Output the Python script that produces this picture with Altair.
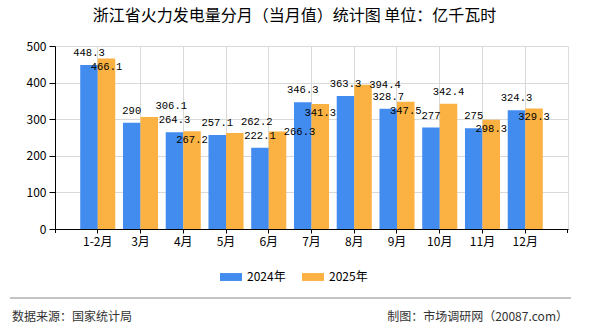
import altair as alt
import pandas as pd

months = ["1-2月", "3月", "4月", "5月", "6月", "7月", "8月", "9月", "10月", "11月", "12月"]
v2024 = [448.3, 290, 264.3, 257.1, 222.1, 346.3, 363.3, 328.7, 277, 275, 324.3]
v2025 = [466.1, 306.1, 267.2, 262.2, 266.3, 341.3, 394.4, 347.5, 342.4, 298.3, 329.3]
series = ["2024年", "2025年"]
colors = ["#428bef", "#fbb242"]
y_ticks = [0, 100, 200, 300, 400, 500]
title_text = "浙江省火力发电量分月（当月值）统计图  单位：亿千瓦时"
source_text = "数据来源：国家统计局"
maker_text = "制图：市场调研网（20087.com）"

# ---- layout constants -------------------------------------------------------
W, H = 513, 183
Y_MAX = 500
P_INNER, P_OUTER = 0.18, 0.59
CJK = "Noto Sans CJK SC"
GRID = "#d9d9d9"
LBL_FONT = "Liberation Mono"
LBL_SIZE = 10.5

# label placement candidates (dx, dy relative to the bar top)
CANDS = {"inside": (0, 9), "above": (0, -12), "beside": (22, 0), "upright": (22, -11)}
ORDER = ["inside", "above", "beside", "upright"]


def fmt(v):
    return f"{v:g}"


# simple greedy label collision avoidance in pixel space
step = W / (len(months) - P_INNER + 2 * P_OUTER)
half = step * (1 - P_INNER) / 4


def px_y(v):
    return H - v / Y_MAX * H


def box(cx, cy, text):
    return (cx, cy, len(text) * 0.6 * LBL_SIZE)


def hit(a, b):
    return abs(a[0] - b[0]) < (a[2] + b[2]) / 2 and abs(a[1] - b[1]) < 12


placed = []
for i, a in enumerate(v2024):
    cx = step * (P_OUTER + i + (1 - P_INNER) / 2) - half
    placed.append(box(cx, px_y(a) - 12, fmt(a)))

place25 = []
for i, b in enumerate(v2025):
    cx = step * (P_OUTER + i + (1 - P_INNER) / 2) + half
    chosen = ORDER[-1]
    for name in ORDER:
        dx, dy = CANDS[name]
        bx = box(cx + dx, px_y(b) + dy, fmt(b))
        if not any(hit(bx, p) for p in placed):
            chosen = name
            break
    dx, dy = CANDS[chosen]
    placed.append(box(cx + dx, px_y(b) + dy, fmt(b)))
    place25.append(chosen)

rows = []
for m, a, b, p in zip(months, v2024, v2025, place25):
    rows.append({"月份": m, "年份": series[0], "值": a, "place": "above"})
    rows.append({"月份": m, "年份": series[1], "值": b, "place": p})
df = pd.DataFrame(rows)
df["标签"] = df["值"].map(fmt)

x_enc = alt.X(
    "月份:N", sort=months,
    scale=alt.Scale(paddingInner=P_INNER, paddingOuter=P_OUTER),
    axis=alt.Axis(title=None, labelAngle=0, grid=True, gridColor=GRID, bandPosition=0.5,
                  domainColor="#000000", tickColor="#000000", tickSize=4,
                  labelFont=CJK, labelFontSize=12, labelColor="#000000", labelPadding=3),
)
xo_enc = alt.XOffset("年份:N", sort=series, scale=alt.Scale(paddingInner=0, paddingOuter=0))
y_enc = alt.Y(
    "值:Q", scale=alt.Scale(domain=[0, Y_MAX], nice=False),
    axis=alt.Axis(title=None, values=y_ticks, grid=True, gridColor=GRID,
                  domainColor="#000000", tickColor="#000000", tickSize=6,
                  labelFont=CJK, labelFontSize=12, labelColor="#000000", labelPadding=3),
)

bars = alt.Chart(df).mark_bar().encode(
    x=x_enc, xOffset=xo_enc, y=y_enc,
    color=alt.Color("年份:N", sort=series, scale=alt.Scale(domain=series, range=colors),
                    legend=alt.Legend(title=None, orient="none", direction="horizontal",
                                      legendX=165, legendY=220,
                                      symbolType="M-1,-0.36H1V0.36H-1Z", symbolSize=484,
                                      symbolStrokeWidth=0, labelOffset=5, columnPadding=16,
                                      labelFont=CJK, labelFontSize=12, labelColor="#000000")),
)


def labels(year, place, dx, dy):
    return alt.Chart(df).transform_filter(
        (alt.datum["年份"] == year) & (alt.datum["place"] == place)
    ).mark_text(
        baseline="middle", dx=dx, dy=dy, font=LBL_FONT, fontSize=LBL_SIZE, color="#000000"
    ).encode(x=x_enc, xOffset=xo_enc, y=y_enc, text="标签:N")


layers = [bars, labels(series[0], "above", 0, -12)]
for name, (dx, dy) in CANDS.items():
    layers.append(labels(series[1], name, dx, dy))

# end ticks of the category axis
end_ticks = alt.Chart(pd.DataFrame({"k": [0]})).mark_rule(color="#000000").encode(
    x=alt.value(0.5), y=alt.value(H), y2=alt.value(H + 4)
)
end_ticks2 = alt.Chart(pd.DataFrame({"k": [0]})).mark_rule(color="#000000").encode(
    x=alt.value(W - 0.5), y=alt.value(H), y2=alt.value(H + 4)
)
sep = alt.Chart(pd.DataFrame({"k": [0]})).mark_rule(color="#888888", strokeWidth=1).encode(
    x=alt.value(-45), x2=alt.value(516), y=alt.value(252)
)
src = alt.Chart(pd.DataFrame({"t": [source_text]})).mark_text(
    align="left", baseline="middle", font=CJK, fontSize=12, color="#333333"
).encode(x=alt.value(-43), y=alt.value(271), text="t:N")
mk = alt.Chart(pd.DataFrame({"t": [maker_text]})).mark_text(
    align="right", baseline="middle", font=CJK, fontSize=12, color="#333333"
).encode(x=alt.value(513), y=alt.value(271), text="t:N")

layers += [end_ticks, end_ticks2, sep, src, mk]

chart = alt.layer(*layers).properties(
    width=W, height=H,
    autosize=alt.AutoSizeParams(type="none"),
    padding={"left": 55, "top": 46, "right": 22, "bottom": 101},
    title=alt.TitleParams(title_text, anchor="middle", frame="group", dx=-17, offset=16,
                          font=CJK, fontSize=16, fontWeight="normal", color="#000000"),
).configure_view(stroke=GRID).configure(background="white")

chart.save("out.html", embed_options={"renderer": "svg", "actions": False})
